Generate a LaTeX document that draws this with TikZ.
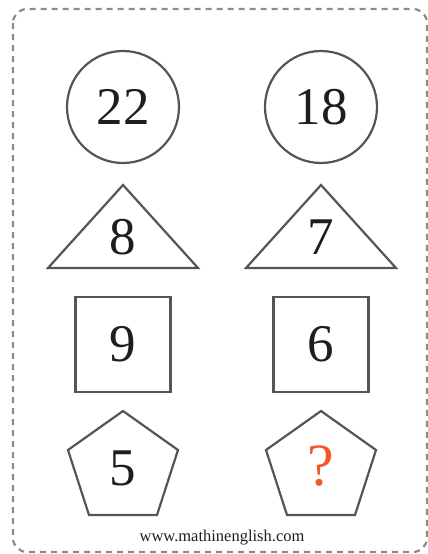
\documentclass[tikz,border=0pt]{standalone}
\usepackage{fontspec}
\setmainfont{Liberation Serif}
\usepackage{tikz}
\usetikzlibrary{shapes.geometric}
\definecolor{lineGray}{RGB}{85, 85, 85}
\definecolor{borderGray}{RGB}{140, 140, 140}
\definecolor{numBlack}{RGB}{30, 30, 30}
\definecolor{askOrange}{RGB}{240, 90, 40}

\begin{document}
\begin{tikzpicture}[x=1pt, y=-1pt,
    outline/.style={draw=lineGray, line width=2.2pt},
    digit/.style={font=\fontsize{53}{53}\selectfont, text=numBlack, inner sep=0pt}]
    \useasboundingbox (0,0) rectangle (428,554);
    % frame
    \draw[borderGray, line width=2.2pt, dash pattern=on 6pt off 5pt, rounded corners=14pt]
        (13,9) rectangle (427,552);
    % the two columns
    \foreach \x/\name in {123/left,321/right} {
        \draw[outline] (\x,107) circle (56);
        \draw[outline] (\x,185) -- (\x+75,268) -- (\x-75,268) -- cycle;
        \draw[outline] (\x-47.5,297) rectangle (\x+47.5,392);
        \draw[outline] (\x,411) -- (\x+55,450) -- (\x+34,515) -- (\x-34,515) -- (\x-55,450) -- cycle;
    }
    \node[digit] (c1) at (123,107) {22};
    \node[digit] (c2) at (321,107) {18};
    \node[digit] (t1) at (123,237) {8};
    \node[digit] (t2) at (321,237) {7};
    \node[digit] (s1) at (123,344) {9};
    \node[digit] (s2) at (321,344) {6};
    \node[digit] (p1) at (123,468) {5};
    \node[digit, font=\fontsize{60}{60}\selectfont, text=askOrange] (p2) at (321,466) {?};
    \node[font=\fontsize{16.5}{16.5}\selectfont, text=numBlack] (site) at (222,538) {www.mathinenglish.com};
\end{tikzpicture}
\end{document}
